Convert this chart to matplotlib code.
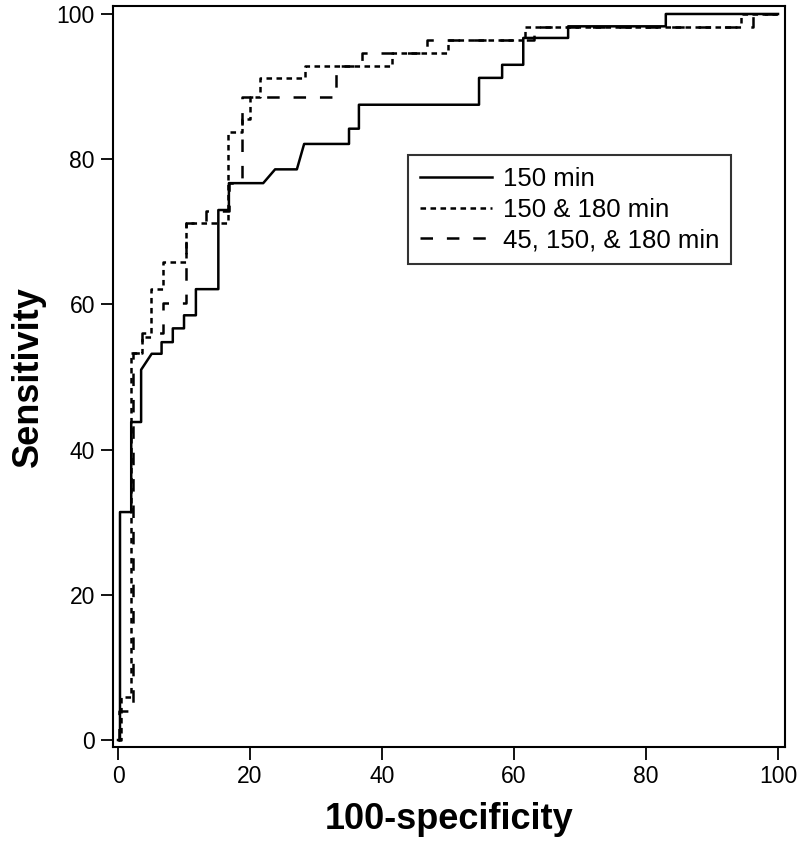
import matplotlib
matplotlib.use("Agg")
import matplotlib.pyplot as plt

plt.rcParams['font.family'] = ['Liberation Sans', 'DejaVu Sans']
plt.rcParams['lines.scale_dashes'] = False

# ROC curve vertices (100-specificity, sensitivity)
fpr_150 = [0, 0.3, 0.3, 2.0, 2.0, 3.5, 3.5, 5.1, 6.6, 6.6, 8.3, 8.3, 10.0, 10.0,
           11.8, 11.8, 15.2, 15.2, 16.8, 16.8, 22.0, 23.8, 27.1, 28.2, 35.0, 35.0,
           36.5, 36.5, 54.7, 54.7, 58.2, 58.2, 61.4, 61.4, 68.2, 68.2, 83.0, 83.0, 100]
sens_150 = [0, 0, 31.4, 31.4, 43.8, 43.8, 51.0, 53.2, 53.2, 54.8, 54.8, 56.7, 56.7, 58.5,
            58.5, 62.1, 62.1, 73.0, 73.0, 76.7, 76.7, 78.6, 78.6, 82.1, 82.1, 84.2,
            84.2, 87.5, 87.5, 91.2, 91.2, 93.0, 93.0, 96.7, 96.7, 98.3, 98.3, 100, 100]

fpr_150_180 = [0, 0.4, 0.4, 2.0, 2.0, 3.6, 3.6, 5.0, 5.0, 6.8, 6.8, 10.3, 10.3, 16.7,
               16.7, 18.8, 18.8, 20.0, 20.0, 21.5, 21.5, 28.3, 28.3, 41.5, 41.5,
               50.0, 50.0, 61.7, 61.7, 94.4, 94.4, 100]
sens_150_180 = [0, 0, 5.9, 5.9, 53.3, 53.3, 55.5, 55.5, 62.1, 62.1, 65.8, 65.8, 71.2, 71.2,
                83.7, 83.7, 85.6, 85.6, 88.6, 88.6, 91.2, 91.2, 92.8, 92.8, 94.6,
                94.6, 96.4, 96.4, 98.2, 98.2, 100, 100]

fpr_45_150_180 = [0, 0.2, 0.2, 2.2, 2.2, 3.6, 3.6, 6.8, 6.8, 10.3, 10.3, 13.3, 13.3,
                  16.8, 16.8, 18.8, 18.8, 33.1, 33.1, 37.0, 37.0, 46.8, 46.8, 63.0,
                  63.0, 96.2, 96.2, 100]
sens_45_150_180 = [0, 0, 4.0, 4.0, 53.3, 53.3, 56.0, 56.0, 60.2, 60.2, 71.2, 71.2, 72.9,
                   72.9, 76.7, 76.7, 88.6, 88.6, 92.8, 92.8, 94.6, 94.6, 96.4, 96.4,
                   98.2, 98.2, 100, 100]

labels = ['150 min', '150 & 180 min', '45, 150, & 180 min']

fig = plt.figure(figsize=(8.0, 8.55), dpi=100)
ax = fig.add_axes([0.14125, 0.1263, 0.84, 0.8667])

ax.plot(fpr_150, sens_150, color='black', lw=1.8, linestyle='-', label=labels[0])
ax.plot(fpr_150_180, sens_150_180, color='black', lw=1.8,
        linestyle=(0, (4.0, 3.2)), label=labels[1])
ax.plot(fpr_45_150_180, sens_45_150_180, color='black', lw=1.8,
        linestyle=(0, (9.0, 10.0)), label=labels[2])

ax.set_xlim(-0.76, 101.06)
ax.set_ylim(-0.96, 101.1)
ax.set_xticks([0, 20, 40, 60, 80, 100])
ax.set_yticks([0, 20, 40, 60, 80, 100])
ax.tick_params(direction='out', length=9, width=1.3, labelsize=16.5, pad=4)
for s in ax.spines.values():
    s.set_linewidth(1.5)

ax.set_xlabel('100-specificity', fontsize=26, fontweight='bold', labelpad=10)
ax.set_ylabel('Sensitivity', fontsize=26, fontweight='bold', labelpad=8)

leg = ax.legend(loc='upper left', bbox_to_anchor=(408 / 800, 1 - 155 / 855),
                bbox_transform=fig.transFigure, fontsize=18.5, frameon=True,
                fancybox=False, edgecolor='black', handlelength=2.8,
                handletextpad=0.45, labelspacing=0.27, borderpad=0.45,
                borderaxespad=0)
leg.get_frame().set_linewidth(1.5)

fig.savefig('out.png', dpi=100)
